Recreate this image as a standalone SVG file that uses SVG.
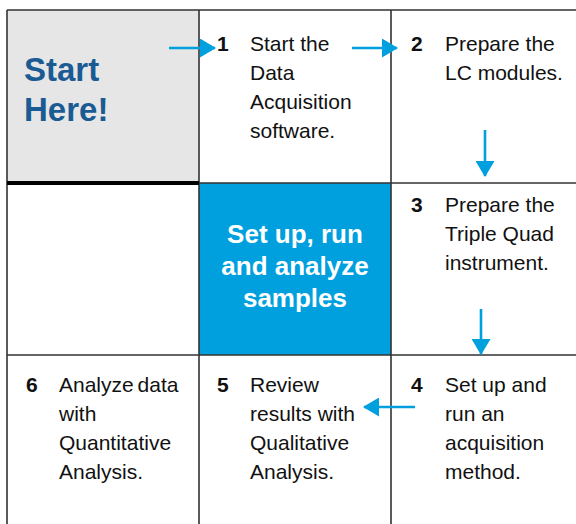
<svg xmlns="http://www.w3.org/2000/svg" width="576" height="524" viewBox="0 0 576 524">
<defs>
<style>
.t{font-family:"Liberation Sans",Arial,sans-serif;font-size:21px;fill:#111}
.n{font-family:"Liberation Sans",Arial,sans-serif;font-size:21px;font-weight:bold;fill:#111}
.h{font-family:"Liberation Sans",Arial,sans-serif;font-size:33px;font-weight:bold;fill:#1b5b94}
.c{font-family:"Liberation Sans",Arial,sans-serif;font-size:26px;font-weight:bold;fill:#fff;text-anchor:middle}
.g{stroke:#333;stroke-width:1.6;fill:none}
.a{stroke:#00a0df;stroke-width:2.6;fill:none}
</style>
<marker id="ah" viewBox="0 0 16 19" refX="15" refY="9.5" markerWidth="16" markerHeight="19" markerUnits="userSpaceOnUse" orient="auto">
<path d="M0,0 L16,9.5 L0,19 z" fill="#00a0df"/>
</marker>
</defs>
<rect width="576" height="524" fill="#fff"/>
<g id="start">
<rect x="7" y="10" width="192" height="173" fill="#e6e6e6"/>
<text class="h" x="24" y="81">Start</text>
<text class="h" x="24" y="121">Here!</text>
</g>
<g id="center">
<rect x="199" y="183" width="192" height="172" fill="#00a0df"/>
<text class="c" x="295" y="243">Set up, run</text>
<text class="c" x="295" y="275">and analyze</text>
<text class="c" x="295" y="307">samples</text>
</g>
<g id="grid">
<path class="g" d="M7,10 H576 M7,10 V524 M199,10 V524 M391,10 V524 M199,183 H576 M7,355 H576"/>
<path d="M7,183 H199" stroke="#000" stroke-width="4"/>
</g>
<g id="step1">
<text class="n" x="217" y="51">1</text>
<text class="t" x="250" y="51">Start the</text>
<text class="t" x="250" y="80">Data</text>
<text class="t" x="250" y="109">Acquisition</text>
<text class="t" x="250" y="138">software.</text>
</g>
<g id="step2">
<text class="n" x="411" y="51">2</text>
<text class="t" x="445" y="51">Prepare the</text>
<text class="t" x="445" y="80">LC modules.</text>
</g>
<g id="step3">
<text class="n" x="411" y="212">3</text>
<text class="t" x="445" y="212">Prepare the</text>
<text class="t" x="445" y="241">Triple Quad</text>
<text class="t" x="445" y="270">instrument.</text>
</g>
<g id="step4">
<text class="n" x="411" y="392">4</text>
<text class="t" x="445" y="392">Set up and</text>
<text class="t" x="445" y="421">run an</text>
<text class="t" x="445" y="450">acquisition</text>
<text class="t" x="445" y="479">method.</text>
</g>
<g id="step5">
<text class="n" x="217" y="392">5</text>
<text class="t" x="250" y="392">Review</text>
<text class="t" x="250" y="421">results with</text>
<text class="t" x="250" y="450">Qualitative</text>
<text class="t" x="250" y="479">Analysis.</text>
</g>
<g id="step6">
<text class="n" x="26" y="392">6</text>
<text class="t" x="59" y="392" word-spacing="-2">Analyze data</text>
<text class="t" x="59" y="421">with</text>
<text class="t" x="59" y="450">Quantitative</text>
<text class="t" x="59" y="479">Analysis.</text>
</g>
<g id="connectors">
<path class="a" d="M169,48 H215" marker-end="url(#ah)"/>
<path class="a" d="M352,48 H397" marker-end="url(#ah)"/>
<path class="a" d="M485,130 V176" marker-end="url(#ah)"/>
<path class="a" d="M481,309 V354" marker-end="url(#ah)"/>
<path class="a" d="M415,407 H364" marker-end="url(#ah)"/>
</g>
</svg>
